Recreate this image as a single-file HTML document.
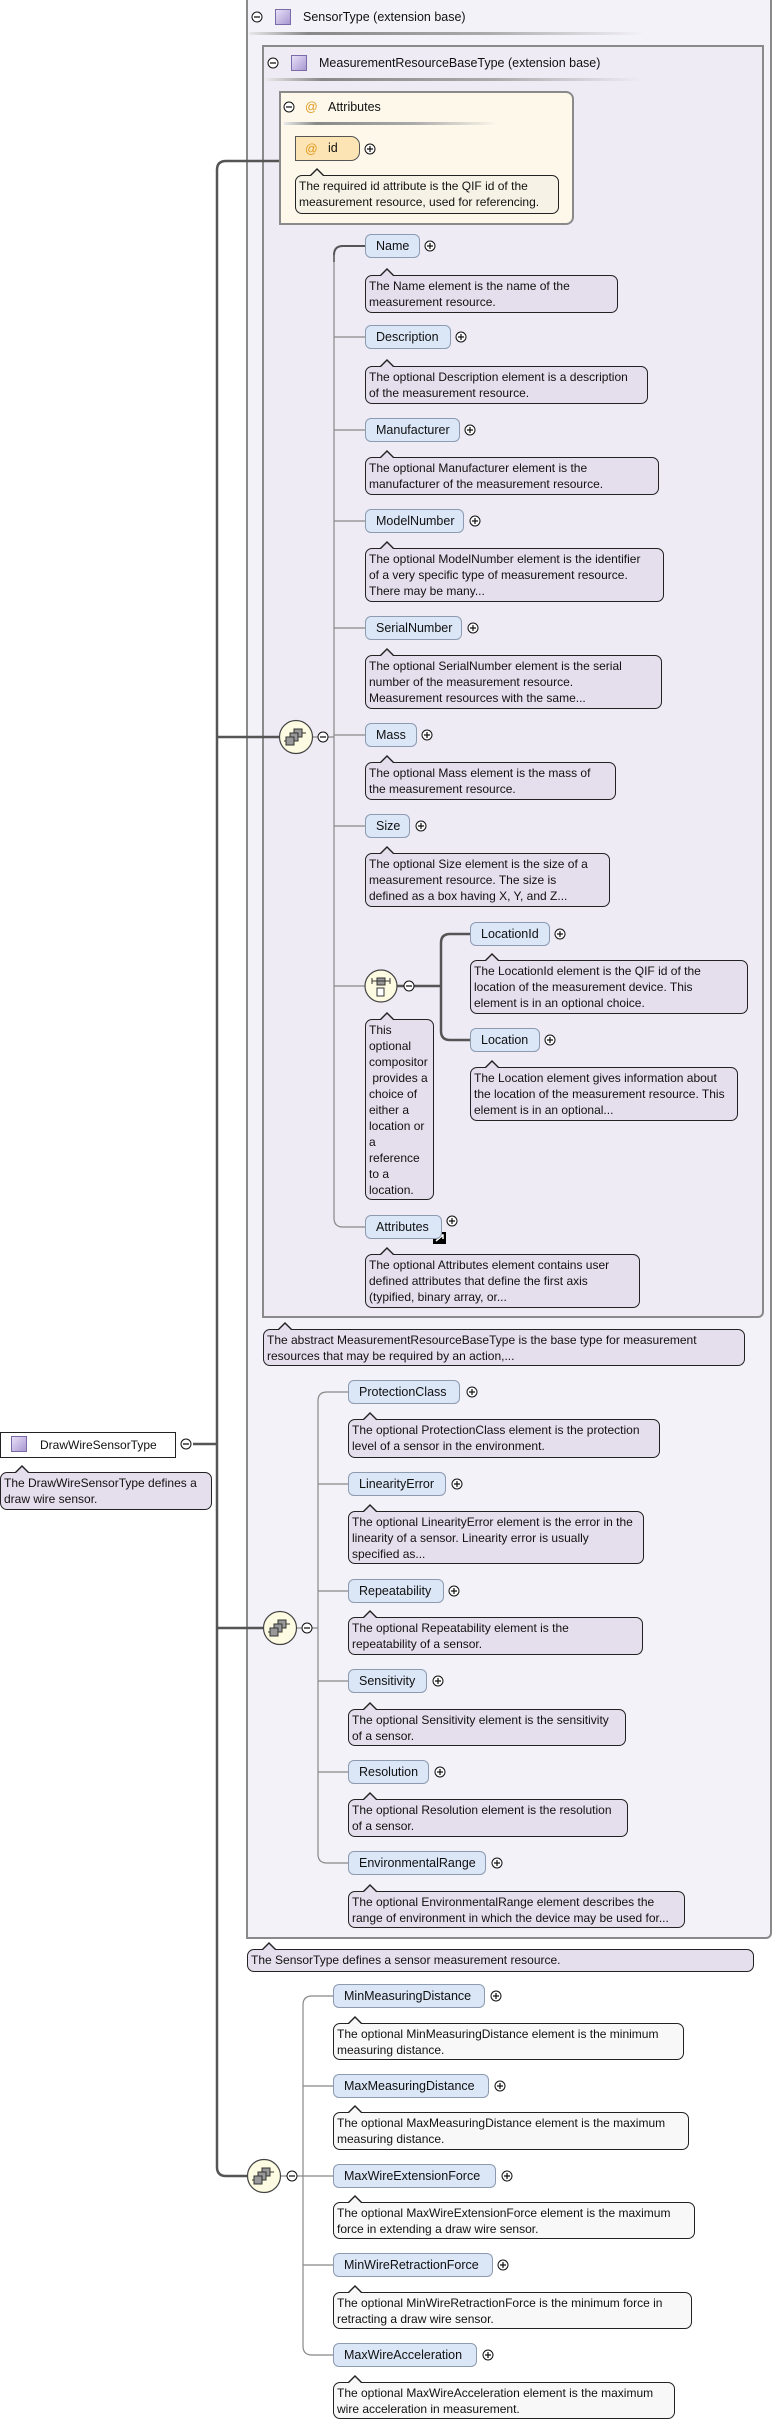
<!DOCTYPE html>
<html><head><meta charset="utf-8"><style>
*{margin:0;padding:0;box-sizing:border-box}
body{width:773px;height:2430px;position:relative;background:#fff;font-family:"Liberation Sans",Arial,sans-serif;color:#111;overflow:hidden}
.a{position:absolute}
.box{position:absolute;border:2px solid #8a8a8a}
.el{position:absolute;height:24px;background:#dbe6f7;border:1px solid #8d9bb0;border-radius:6px;font-size:12.5px;line-height:22px;padding-left:10px;white-space:nowrap}
.doc{position:absolute;border:1px solid #222;border-radius:7px;background:#e5dfed;font-size:12px;line-height:16px;padding:2px 3px;white-space:nowrap}
.doc.w{background:#f8f8f8}
.doc::before{content:"";position:absolute;left:13px;top:-8px;border-left:8px solid transparent;border-right:8px solid transparent;border-bottom:8px solid #222}
.doc::after{content:"";position:absolute;left:14px;top:-6px;border-left:7px solid transparent;border-right:7px solid transparent;border-bottom:7px solid #e5dfed}
.doc.w::after{border-bottom-color:#f8f8f8}
.doc.c::after{border-bottom-color:#f7f2e6}
.hd{position:absolute;font-size:12.5px;line-height:16px;white-space:nowrap}
.ic{position:absolute;width:16px;height:16px;border:1px solid #7a6aa8;background:linear-gradient(135deg,#e8e0f8,#a898d0)}
.sep{position:absolute;height:3px;background:linear-gradient(90deg,#e8e8e8,#888 15%,#aaa 60%,rgba(255,255,255,0))}
</style></head><body>

<div class="box" style="left:246px;top:-2px;width:526px;height:1941px;background:#f4f2f9;border-radius:0 0 6px 0"></div>
<div class="ic" style="left:275px;top:9px"></div>
<div class="hd" style="left:303px;top:9px">SensorType (extension base)</div>
<div class="sep" style="left:249px;top:32px;width:395px"></div>

<div class="box" style="left:262px;top:45px;width:502px;height:1273px;background:#eeebf5;border-radius:0 0 6px 0"></div>
<div class="ic" style="left:291px;top:55px"></div>
<div class="hd" style="left:319px;top:55px">MeasurementResourceBaseType (extension base)</div>
<div class="sep" style="left:266px;top:78px;width:376px"></div>

<div class="box" style="left:279px;top:91px;width:295px;height:134px;background:#fdf8ea;border-radius:0 8px 8px 0"></div>
<div class="hd" style="left:305px;top:99px;color:#e09a20">@</div>
<div class="hd" style="left:328px;top:99px">Attributes</div>
<div class="sep" style="left:284px;top:122px;width:214px"></div>
<div class="a" style="left:295px;top:136px;width:65px;height:25px;background:#fde4b4;border:1px solid #555;border-radius:0 9px 9px 0"></div>
<div class="hd" style="left:305px;top:141px;color:#e09a20">@</div>
<div class="hd" style="left:328px;top:140px">id</div>
<div class="doc c" style="left:295px;top:175px;width:264px;height:39px;background:#f7f2e6">The required id attribute is the QIF id of the<br>measurement resource, used for referencing.</div>

<svg class="a" style="left:0;top:0" width="773" height="2430">
<g fill="none" stroke="#555" stroke-width="2.5">
<path d="M279 161 H226 Q217 161 217 170 V2167 Q217 2176 226 2176 H248" />
<path d="M217 737 H279"/>
<path d="M193 1444 H217"/>
<path d="M217 1628 H264"/>
<path d="M397 986 H441"/>
<path d="M470 934 H450 Q441 934 441 943 V1031 Q441 1040 450 1040 H470"/>
<path d="M365 246 H343 Q334 246 334 255 V262" stroke-width="2"/>
</g>
<g fill="none" stroke="#888" stroke-width="1.2">
<path d="M313 737 H334"/>
<path d="M334 255 V1218 Q334 1227 343 1227 H365"/>
<path d="M334 337 H365 M334 430 H365 M334 521 H365 M334 628 H365 M334 735 H365 M334 826 H365 M334 986 H365"/>
<path d="M297 1628 H318"/>
<path d="M348 1392 H327 Q318 1392 318 1401 V1854 Q318 1863 327 1863 H348"/>
<path d="M318 1484 H348 M318 1591 H348 M318 1681 H348 M318 1772 H348"/>
<path d="M280 2176 H303"/>
<path d="M333 1996 H312 Q303 1996 303 2005 V2346 Q303 2355 312 2355 H333"/>
<path d="M303 2086 H333 M303 2176 H333 M303 2265 H333"/>
</g>
<g stroke="#444" stroke-width="1.2" fill="#fdfbe1">
<circle cx="296" cy="737" r="16.5"/>
<ellipse cx="381" cy="986" rx="16" ry="16"/>
<circle cx="280" cy="1628" r="16.5"/>
<circle cx="264" cy="2176" r="16.5"/>
</g>
<g fill="#999" stroke="#333" stroke-width="1">
<rect x="294" y="729" width="8" height="8"/><rect x="290" y="733" width="8" height="8"/><rect x="286" y="737" width="8" height="8"/>
<path d="M284 741 H286 M302 733 H306" />
<rect x="278" y="1620" width="8" height="8"/><rect x="274" y="1624" width="8" height="8"/><rect x="270" y="1628" width="8" height="8"/>
<path d="M268 1632 H270 M286 1624 H290"/>
<rect x="262" y="2168" width="8" height="8"/><rect x="258" y="2172" width="8" height="8"/><rect x="254" y="2176" width="8" height="8"/>
<path d="M252 2180 H254 M270 2172 H274"/>
<rect x="377" y="978" width="8" height="7"/><rect x="377" y="988" width="7" height="8" fill="#fff"/>
<path d="M372 981 H390 M372 978 V984 M390 978 V984"/>
</g>
<g fill="#fff" stroke="#111" stroke-width="1">
<circle cx="257" cy="17" r="5"/><circle cx="273" cy="63" r="5"/><circle cx="289" cy="107" r="5"/>
<circle cx="186" cy="1444" r="5"/><circle cx="323" cy="737" r="5"/><circle cx="409" cy="986" r="5"/>
<circle cx="307" cy="1628" r="5"/><circle cx="292" cy="2176" r="5"/>
<circle cx="370" cy="149" r="5"/>
<circle cx="430" cy="246" r="5"/><circle cx="461" cy="337" r="5"/><circle cx="470" cy="430" r="5"/>
<circle cx="475" cy="521" r="5"/><circle cx="473" cy="628" r="5"/><circle cx="427" cy="735" r="5"/>
<circle cx="421" cy="826" r="5"/><circle cx="560" cy="934" r="5"/><circle cx="550" cy="1040" r="5"/>
<circle cx="452" cy="1221" r="5"/>
<circle cx="472" cy="1392" r="5"/><circle cx="457" cy="1484" r="5"/><circle cx="454" cy="1591" r="5"/>
<circle cx="438" cy="1681" r="5"/><circle cx="440" cy="1772" r="5"/><circle cx="497" cy="1863" r="5"/>
<circle cx="496" cy="1996" r="5"/><circle cx="500" cy="2086" r="5"/><circle cx="507" cy="2176" r="5"/>
<circle cx="503" cy="2265" r="5"/><circle cx="488" cy="2355" r="5"/>
</g>
<g stroke="#111" stroke-width="1.2">
<path d="M254 17H260 M270 63H276 M286 107H292 M183 1444H189 M320 737H326 M406 986H412 M304 1628H310 M289 2176H295"/>
<path d="M367 149H373M370 146V152 M427 246H433M430 243V249 M458 337H464M461 334V340 M467 430H473M470 427V433 M472 521H478M475 518V524 M470 628H476M473 625V631 M424 735H430M427 732V738 M418 826H424M421 823V829 M557 934H563M560 931V937 M547 1040H553M550 1037V1043 M449 1221H455M452 1218V1224 M469 1392H475M472 1389V1395 M454 1484H460M457 1481V1487 M451 1591H457M454 1588V1594 M435 1681H441M438 1678V1684 M437 1772H443M440 1769V1775 M494 1863H500M497 1860V1866 M493 1996H499M496 1993V1999 M497 2086H503M500 2083V2089 M504 2176H510M507 2173V2179 M500 2265H506M503 2262V2268 M485 2355H491M488 2352V2358"/>
</g>
<rect x="433" y="1232" width="13" height="12" fill="#000"/>
<path d="M436 1241 L443 1235 M439 1235 H443 V1239" stroke="#fff" stroke-width="1.5" fill="none"/>
</svg>

<div class="a" style="left:0;top:1432px;width:176px;height:26px;border:1px solid #222;background:#fff"></div>
<div class="ic" style="left:11px;top:1436px"></div>
<div class="hd" style="left:40px;top:1437px;font-size:12px">DrawWireSensorType</div>
<div class="doc" style="left:0;top:1472px;width:212px;height:38px">The DrawWireSensorType defines a<br>draw wire sensor.</div>

<div class="el" style="left:365px;top:234px;width:55px">Name</div>
<div class="doc" style="left:365px;top:275px;width:253px;height:38px">The Name element is the name of the<br>measurement resource.</div>
<div class="el" style="left:365px;top:325px;width:86px">Description</div>
<div class="doc" style="left:365px;top:366px;width:283px;height:38px">The optional Description element is a description<br>of the measurement resource.</div>
<div class="el" style="left:365px;top:418px;width:95px">Manufacturer</div>
<div class="doc" style="left:365px;top:457px;width:294px;height:38px">The optional Manufacturer element is the<br>manufacturer of the measurement resource.</div>
<div class="el" style="left:365px;top:509px;width:99px">ModelNumber</div>
<div class="doc" style="left:365px;top:548px;width:299px;height:54px">The optional ModelNumber element is the identifier<br>of a very specific type of measurement resource.<br>There may be many...</div>
<div class="el" style="left:365px;top:616px;width:97px">SerialNumber</div>
<div class="doc" style="left:365px;top:655px;width:297px;height:54px">The optional SerialNumber element is the serial<br>number of the measurement resource.<br>Measurement resources with the same...</div>
<div class="el" style="left:365px;top:723px;width:52px">Mass</div>
<div class="doc" style="left:365px;top:762px;width:251px;height:38px">The optional Mass element is the mass of<br>the measurement resource.</div>
<div class="el" style="left:365px;top:814px;width:45px">Size</div>
<div class="doc" style="left:365px;top:853px;width:245px;height:54px">The optional Size element is the size of a<br>measurement resource. The size is<br>defined as a box having X, Y, and Z...</div>
<div class="el" style="left:470px;top:922px;width:80px">LocationId</div>
<div class="doc" style="left:470px;top:960px;width:278px;height:54px">The LocationId element is the QIF id of the<br>location of the measurement device. This<br>element is in an optional choice.</div>
<div class="el" style="left:470px;top:1028px;width:70px">Location</div>
<div class="doc" style="left:470px;top:1067px;width:268px;height:54px">The Location element gives information about<br>the location of the measurement resource. This<br>element is in an optional...</div>
<div class="doc" style="left:365px;top:1019px;width:69px;height:181px">This<br>optional<br>compositor<br>&nbsp;provides a<br>choice of<br>either a<br>location or<br>a<br>reference<br>to a<br>location.</div>
<div class="el" style="left:365px;top:1215px;width:77px">Attributes</div>
<div class="doc" style="left:365px;top:1254px;width:275px;height:54px">The optional Attributes element contains user<br>defined attributes that define the first axis<br>(typified, binary array, or...</div>
<div class="doc" style="left:263px;top:1329px;width:482px;height:37px">The abstract MeasurementResourceBaseType is the base type for measurement<br>resources that may be required by an action,...</div>

<div class="el" style="left:348px;top:1380px;width:112px">ProtectionClass</div>
<div class="doc" style="left:348px;top:1419px;width:312px;height:39px">The optional ProtectionClass element is the protection<br>level of a sensor in the environment.</div>
<div class="el" style="left:348px;top:1472px;width:98px">LinearityError</div>
<div class="doc" style="left:348px;top:1511px;width:296px;height:53px">The optional LinearityError element is the error in the<br>linearity of a sensor. Linearity error is usually<br>specified as...</div>
<div class="el" style="left:348px;top:1579px;width:96px">Repeatability</div>
<div class="doc" style="left:348px;top:1617px;width:295px;height:38px">The optional Repeatability element is the<br>repeatability of a sensor.</div>
<div class="el" style="left:348px;top:1669px;width:79px">Sensitivity</div>
<div class="doc" style="left:348px;top:1709px;width:278px;height:37px">The optional Sensitivity element is the sensitivity<br>of a sensor.</div>
<div class="el" style="left:348px;top:1760px;width:81px">Resolution</div>
<div class="doc" style="left:348px;top:1799px;width:280px;height:38px">The optional Resolution element is the resolution<br>of a sensor.</div>
<div class="el" style="left:348px;top:1851px;width:138px">EnvironmentalRange</div>
<div class="doc" style="left:348px;top:1891px;width:337px;height:37px">The optional EnvironmentalRange element describes the<br>range of environment in which the device may be used for...</div>
<div class="doc" style="left:247px;top:1949px;width:507px;height:23px">The SensorType defines a sensor measurement resource.</div>

<div class="el" style="left:333px;top:1984px;width:152px">MinMeasuringDistance</div>
<div class="doc w" style="left:333px;top:2023px;width:351px;height:37px">The optional MinMeasuringDistance element is the minimum<br>measuring distance.</div>
<div class="el" style="left:333px;top:2074px;width:156px">MaxMeasuringDistance</div>
<div class="doc w" style="left:333px;top:2112px;width:356px;height:38px">The optional MaxMeasuringDistance element is the maximum<br>measuring distance.</div>
<div class="el" style="left:333px;top:2164px;width:163px">MaxWireExtensionForce</div>
<div class="doc w" style="left:333px;top:2202px;width:362px;height:37px">The optional MaxWireExtensionForce element is the maximum<br>force in extending a draw wire sensor.</div>
<div class="el" style="left:333px;top:2253px;width:160px">MinWireRetractionForce</div>
<div class="doc w" style="left:333px;top:2292px;width:359px;height:37px">The optional MinWireRetractionForce is the minimum force in<br>retracting a draw wire sensor.</div>
<div class="el" style="left:333px;top:2343px;width:144px">MaxWireAcceleration</div>
<div class="doc w" style="left:333px;top:2382px;width:342px;height:37px">The optional MaxWireAcceleration element is the maximum<br>wire acceleration in measurement.</div>

</body></html>
